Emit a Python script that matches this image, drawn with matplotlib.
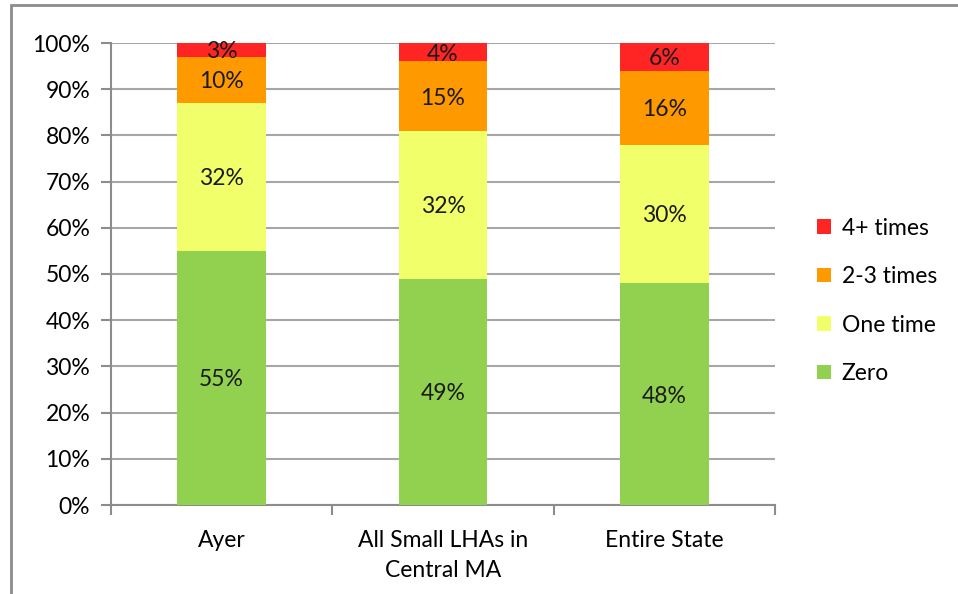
import matplotlib.pyplot as plt
from matplotlib.patches import Rectangle
import numpy as np

plt.rcParams['font.family'] = ['Lato', 'DejaVu Sans']

categories = ['Ayer', 'All Small LHAs in\nCentral MA', 'Entire State']
series_names = ['Zero', 'One time', '2-3 times', '4+ times']
zero = [55, 49, 48]
one_time = [32, 32, 30]
two_three = [10, 15, 16]
four_plus = [3, 4, 6]
colors = ['#92D050', '#F0FF6A', '#FF9900', '#FF2525']

FS = 16.5

fig = plt.figure(figsize=(9.58, 5.94), dpi=100)
# outer chart border (runs off the right and bottom edge like the source)
fig.patches.append(Rectangle((11 / 958, -0.1), 1.1, 1 - 5 / 594 + 0.1,
                             transform=fig.transFigure, fill=False,
                             edgecolor='#8C8C8C', linewidth=2))
ax = fig.add_axes([111 / 958, 1 - 505 / 594, (775 - 111) / 958, (505 - 43) / 594])

x = np.arange(len(categories))
bottom = np.zeros(len(categories))
for name, vals, c in zip(series_names, [zero, one_time, two_three, four_plus], colors):
    vals = np.array(vals, dtype=float)
    ax.bar(x, vals, 0.4, bottom=bottom, color=c, label=name, zorder=3)
    for xi, b, v in zip(x, bottom, vals):
        ax.text(xi, b + v / 2, f'{int(v)}%', ha='center', va='center_baseline',
                fontsize=FS, color='#1a1a1a', zorder=4)
    bottom += vals

ax.set_xlim(-0.5, 2.5)
ax.set_ylim(0, 100)
ax.set_yticks(range(0, 101, 10))
ax.set_yticklabels([f'{v}%' for v in range(0, 101, 10)], fontsize=FS)
ax.set_xticks(x)
ax.set_xticklabels(categories, fontsize=FS, linespacing=1.55)
ax.set_xticks([-0.5, 0.5, 1.5, 2.5], minor=True)
ax.tick_params(axis='x', which='major', length=0, pad=18)
ax.tick_params(axis='x', which='minor', length=7, color='#8C8C8C', width=1.5)
ax.tick_params(axis='y', length=7, color='#8C8C8C', width=1.5, pad=8)
ax.grid(axis='y', color='#A6A6A6', linewidth=1.5, zorder=0)
for s in ['top', 'right']:
    ax.spines[s].set_visible(False)
for s in ['left', 'bottom']:
    ax.spines[s].set_color('#8C8C8C')
    ax.spines[s].set_linewidth(1.5)

h, l = ax.get_legend_handles_labels()
fig.legend(h[::-1], l[::-1], loc='center left', bbox_to_anchor=(806 / 958, 1 - 301 / 594),
           frameon=False, fontsize=FS, handlelength=0.6, handleheight=0.6,
           handletextpad=0.45, labelspacing=1.2, borderpad=0)

fig.savefig('out.png', dpi=100)
